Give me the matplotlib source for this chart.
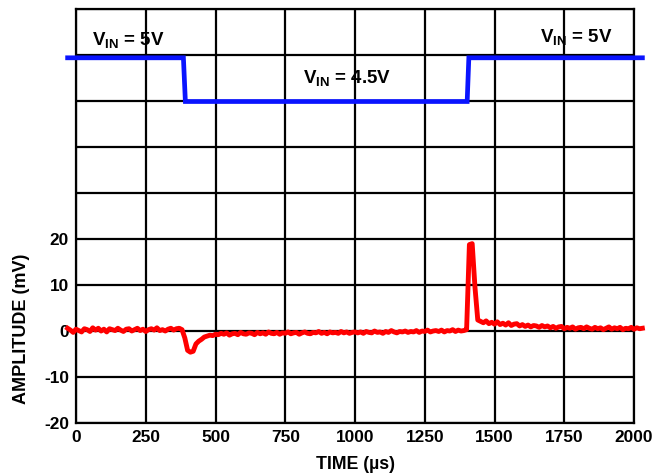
import numpy as np
import matplotlib
matplotlib.use('Agg')
import matplotlib.pyplot as plt

plt.rcParams['font.family'] = ['Liberation Sans', 'DejaVu Sans']
plt.rcParams['font.weight'] = 'bold'
plt.rcParams['mathtext.fontset'] = 'custom'
plt.rcParams['mathtext.rm'] = 'Liberation Sans:bold'
plt.rcParams['mathtext.bf'] = 'Liberation Sans:bold'
plt.rcParams['mathtext.it'] = 'Liberation Sans:bold'

# Время отсчётов, мкс (шаг 10 мкс)
time_us = np.arange(-30, 2031, 10)

# Выходная амплитуда, мВ
amplitude_mv = [
    0.6, 0.2, -0.3, 0.4, 0.1, -0.2, 0.5, 0.3, -0.1, 0.7,
    0.2, 0.6, 0.0, 0.4, -0.2, 0.5, 0.3, 0.1, 0.6, 0.2,
    -0.1, 0.4, 0.5, 0.0, 0.3, 0.6, 0.1, 0.4, -0.1, 0.3,
    0.5, 0.2, 0.7, 0.1, 0.3, 0.0, 0.4, 0.6, 0.2, 0.5,
    0.6, 0.3,
    -1.5, -4.2, -4.6, -4.4, -2.8, -2.2, -1.8, -1.3, -1.1, -0.9, -1.0, -0.7,
    -0.8, -0.5, -0.7, -0.4, -0.9, -0.6, -0.5, -0.8, -0.3, -0.6,
    -0.7, -0.4, -0.5, -0.8, -0.3, -0.6, -0.4, -0.7, -0.2, -0.5,
    -0.6, -0.3, -0.7, -0.4, -0.5, -0.2, -0.6, -0.4, -0.3, -0.7,
    -0.4, -0.2, -0.5, -0.6, -0.3, -0.4, -0.1, -0.5, -0.3, -0.6,
    -0.2, -0.4, -0.3, -0.5, -0.1, -0.4, -0.2, -0.5, -0.3, -0.2,
    -0.4, -0.2, -0.5, -0.1, -0.3, -0.4, 0.0, -0.3, -0.2, -0.5,
    -0.1, -0.3, 0.1, -0.2, -0.4, -0.1, -0.2, 0.0, -0.3, -0.1,
    -0.2, 0.1, -0.3, 0.0, -0.1, 0.2, -0.2, 0.0, 0.1, -0.1,
    0.2, -0.2, 0.1, 0.0, 0.3, -0.1, 0.2, 0.0, 0.1, 0.3,
    18.8, 19.0, 9.5, 2.4, 2.1,
    1.8, 2.2, 1.6, 1.9, 1.5, 2.0, 1.4, 1.7, 1.3, 1.8,
    1.2, 1.5, 1.6, 1.1, 1.4, 1.0, 1.3, 0.9, 1.2, 1.1,
    0.8, 1.2, 0.9, 1.1, 0.7, 1.0, 0.6, 0.9, 1.0, 0.5,
    0.8, 0.6, 0.9, 0.4, 0.7, 0.8, 0.5, 0.9, 0.6, 0.4,
    0.8, 0.5, 0.7, 0.3, 0.6, 0.9, 0.4, 0.7, 0.5, 0.8,
    0.3, 0.6, 0.5, 0.8, 0.4, 0.7, 0.5, 0.6,
]

# Ступенька входного напряжения (в единицах оси графика)
vin_time = [-30, 385, 392, 1402, 1408, 2030]
vin_level = [59.4, 59.4, 49.9, 49.9, 59.4, 59.4]

x_ticks = [0, 250, 500, 750, 1000, 1250, 1500, 1750, 2000]
y_grid = [-20, -10, 0, 10, 20, 30, 40, 50, 60, 70]
y_labels = ['-20', '-10', '0', '10', '20', '', '', '', '', '']

fig = plt.figure(figsize=(6.69, 4.76), dpi=100)
ax = fig.add_axes([0.1136, 0.1113, 0.8341, 0.8697])

ax.plot(vin_time, vin_level, color='#0a14ff', lw=3.4, clip_on=False,
        solid_joinstyle='miter', zorder=3)
ax.plot(time_us, amplitude_mv, color='#ff0000', lw=3.5, clip_on=False, zorder=4)

ax.set_xlim(0, 2000)
ax.set_ylim(-20, 70)
ax.set_xticks(x_ticks)
ax.set_yticks(y_grid)
ax.set_yticklabels(y_labels)
ax.grid(True, color='black', lw=1.6)
ax.set_axisbelow(True)
for s in ax.spines.values():
    s.set_linewidth(1.6)
ax.tick_params(length=0, labelsize=12.4, pad=5)

ax.set_xlabel('TIME (µs)', fontsize=12.8, fontweight='bold', labelpad=8)
ax.set_ylabel('AMPLITUDE (mV)', fontsize=13, fontweight='bold')
ax.yaxis.set_label_coords(-0.083, 0.227)

ax.text(57, 63.3, r'$\mathrm{V_{IN}}$ = 5V', fontsize=13.5, va='center', ha='left')
ax.text(814, 55.0, r'$\mathrm{V_{IN}}$ = 4.5V', fontsize=13.5, va='center', ha='left')
ax.text(1663, 64.0, r'$\mathrm{V_{IN}}$ = 5V', fontsize=13.5, va='center', ha='left')

fig.savefig('out.png', dpi=100)
